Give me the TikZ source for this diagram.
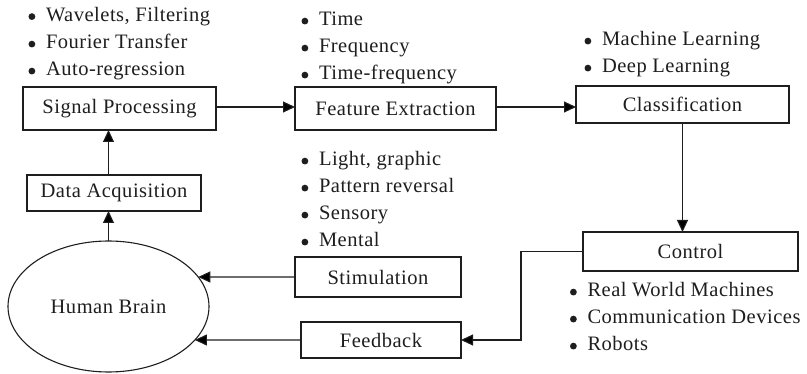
\documentclass[tikz,border=0pt]{standalone}
\usepackage{fontspec}
\setmainfont{Liberation Serif}[LetterSpace=2.5]
\usetikzlibrary{arrows.meta,shapes.geometric,intersections}
\definecolor{ink}{RGB}{30,30,30}
\tikzset{
  every node/.style={font=\fontsize{20.5}{24}\selectfont, text=ink},
  box/.style={draw=ink, line width=1.1pt, inner sep=0pt, outer sep=0pt, rectangle},
  item/.style={anchor=base west, inner sep=0pt, outer sep=0pt},
  arr/.style={draw=ink, line width=1.1pt, -{Triangle[length=12pt,width=11pt]}},
}
\newcommand{\bul}[1]{\makebox[17.5pt][l]{\raisebox{1.5pt}{\tikz\fill[ink] (0,0) circle[radius=3.4pt];}}#1}
\begin{document}
\begin{tikzpicture}[x=1pt,y=-1pt]
\useasboundingbox (0,0) rectangle (807,374);
% boxes
\node[box, minimum width=193pt, minimum height=43pt] (sp) at (119.5,108.5) {Signal Processing};
\node[box, minimum width=201pt, minimum height=43pt] (fe) at (395.5,108.5) {Feature Extraction};
\node[box, minimum width=213pt, minimum height=37pt] (cl) at (682.5,104.5) {Classification};
\node[box, minimum width=174pt, minimum height=36pt] (da) at (114,193) {Data Acquisition};
\node[draw=ink, line width=1.1pt, ellipse, inner sep=0pt, outer sep=0pt, minimum width=201pt, minimum height=131pt, name path=brainp] (brain) at (108.5,306.5) {Human Brain};
\node[box, minimum width=166pt, minimum height=40pt] (st) at (378,277) {Stimulation};
\node[box, minimum width=160pt, minimum height=36pt] (fb) at (381,340) {Feedback};
\node[box, minimum width=215pt, minimum height=39pt] (ct) at (690.5,251.5) {Control};
% bullet lists
\node[item] (sp1) at (28.5,21.5) {\bul{Wavelets, Filtering}};
\node[item] (sp2) at (28.5,49) {\bul{Fourier Transfer}};
\node[item] (sp3) at (28.5,76) {\bul{Auto-regression}};
\node[item] (fe1) at (301.5,26) {\bul{Time}};
\node[item] (fe2) at (301.5,53) {\bul{Frequency}};
\node[item] (fe3) at (301.5,80) {\bul{Time-frequency}};
\node[item] (cl1) at (584.5,46) {\bul{Machine Learning}};
\node[item] (cl2) at (584.5,73) {\bul{Deep Learning}};
\node[item] (st1) at (301.5,166) {\bul{Light, graphic}};
\node[item] (st2) at (301.5,193) {\bul{Pattern reversal}};
\node[item] (st3) at (301.5,220) {\bul{Sensory}};
\node[item] (st4) at (301.5,247) {\bul{Mental}};
\node[item] (ct1) at (570,297) {\bul{Real World Machines}};
\node[item] (ct2) at (570,324) {\bul{Communication Devices}};
\node[item] (ct3) at (570,351) {\bul{Robots}};
% connectors
\draw[arr] (brain.north) -- (brain.north |- da.south);
\draw[arr] (brain.north |- da.north) -- (brain.north |- sp.south);
\draw[arr] (sp.east |- 0,107) -- (fe.west |- 0,107);
\draw[arr] (fe.east |- 0,107) -- (cl.west |- 0,107);
\draw[arr] (cl.south) -- (cl.south |- ct.north);
\path[name path=lst] (st.west) -- ++(-200,0);
\draw[arr, name intersections={of=brainp and lst}] (st.west) -- (intersection-1);
\draw[arr] (ct.west) -- ++(-62,0) |- (fb.east);
\path[name path=lfb] (fb.west) -- ++(-200,0);
\draw[arr, name intersections={of=brainp and lfb}] (fb.west) -- (intersection-1);
\end{tikzpicture}
\end{document}
